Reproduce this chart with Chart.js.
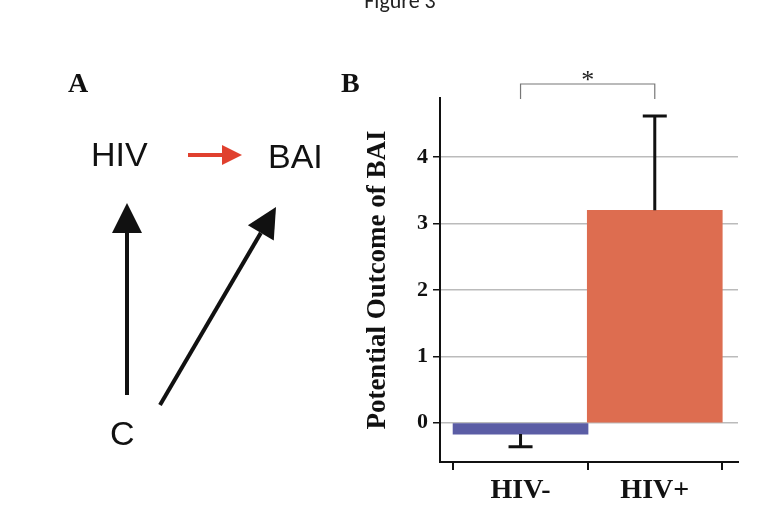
<!DOCTYPE html><html><head><script src="https://cdn.jsdelivr.net/npm/chart.js@4"></script>
<style>body{margin:0;background:#fff}#w{width:758px;height:514px}</style></head><body><div id="w"><canvas id="c"></canvas></div>
<script>
const categories=["HIV-","HIV+"];
const means=[-0.17,3.2];
const errs=[0.19,1.42];
const yTicks=[0,1,2,3,4];
const colors=["#5b5da5","#dd6d50"];
const overlay={id:'ov',afterDatasetsDraw(ch){
 const c=ch.ctx,x=ch.scales.x,y=ch.scales.y;
 c.save();c.strokeStyle='#111';c.lineWidth=3;
 means.forEach((m,i)=>{const px=x.getPixelForValue(i),e=m<0?m-errs[i]:m+errs[i];
  c.beginPath();c.moveTo(px,y.getPixelForValue(m));c.lineTo(px,y.getPixelForValue(e));
  c.moveTo(px-12,y.getPixelForValue(e));c.lineTo(px+12,y.getPixelForValue(e));c.stroke();});
 const a=x.getPixelForValue(0),b=x.getPixelForValue(1);
 c.strokeStyle='#777';c.lineWidth=1.2;c.beginPath();c.moveTo(a,99);c.lineTo(a,84);c.lineTo(b,84);c.lineTo(b,99);c.stroke();
 c.fillStyle='#222';c.font='26px "Liberation Serif"';c.textAlign='center';c.fillText('*',(a+b)/2,88);
 c.fillStyle='#222';c.font='22px Carlito,"Liberation Sans"';c.fillText('Figure 3',400,8);
 c.fillStyle='#111';c.font='bold 28px "Liberation Serif"';c.textAlign='left';c.fillText('A',68,92);c.fillText('B',341,92);
 c.font='34px "Liberation Sans"';c.fillText('HIV',91,166);c.fillText('BAI',268,168);c.fillText('C',110,445);
 function arrow(x1,y1,x2,y2,col,w,h){c.strokeStyle=col;c.fillStyle=col;c.lineWidth=w;const an=Math.atan2(y2-y1,x2-x1);
  const bx=x2-h*Math.cos(an),by=y2-h*Math.sin(an);c.beginPath();c.moveTo(x1,y1);c.lineTo(bx,by);c.stroke();
  c.beginPath();c.moveTo(x2,y2);c.lineTo(bx+h*0.5*Math.cos(an+Math.PI/2),by+h*0.5*Math.sin(an+Math.PI/2));
  c.lineTo(bx+h*0.5*Math.cos(an-Math.PI/2),by+h*0.5*Math.sin(an-Math.PI/2));c.closePath();c.fill();}
 arrow(188,155,242,155,'#e0402e',4,20);
 arrow(127,395,127,203,'#111',4,30);
 arrow(160,405,276,207,'#111',4,30);
 c.restore();}};
new Chart(document.getElementById('c'),{type:'bar',
 data:{datasets:[{data:means.map((v,i)=>({x:i,y:v})),backgroundColor:colors,barThickness:135,grouped:false}]},
 options:{responsive:true,maintainAspectRatio:false,animation:false,
  layout:{padding:{left:360,right:20,top:98,bottom:0}},
  plugins:{legend:{display:false},tooltip:{enabled:false}},
  scales:{
   x:{type:'linear',offset:false,min:-0.6,max:1.62,afterBuildTicks:s=>{s.ticks=[{value:0},{value:1}]},
    afterFit:s=>{s.height=52},
    ticks:{callback:v=>categories[v],color:'#111',font:{family:'Liberation Serif',weight:'bold',size:28},padding:4},
    grid:{drawOnChartArea:false,tickColor:'#111',tickLength:8,lineWidth:2},border:{color:'#111',width:2}},
   y:{min:-0.59,max:4.89,afterBuildTicks:s=>{s.ticks=yTicks.map(v=>({value:v}))},
    afterFit:s=>{s.width=80},
    title:{display:true,text:'Potential Outcome of BAI',color:'#111',font:{family:'Liberation Serif',weight:'bold',size:27},padding:2},
    ticks:{color:'#111',font:{family:'Liberation Serif',weight:'bold',size:22},padding:5},
    grid:{color:'#bbb',lineWidth:1.5,tickColor:'#111',tickLength:7},border:{color:'#111',width:2}}}},
 plugins:[overlay]});
</script></body></html>
